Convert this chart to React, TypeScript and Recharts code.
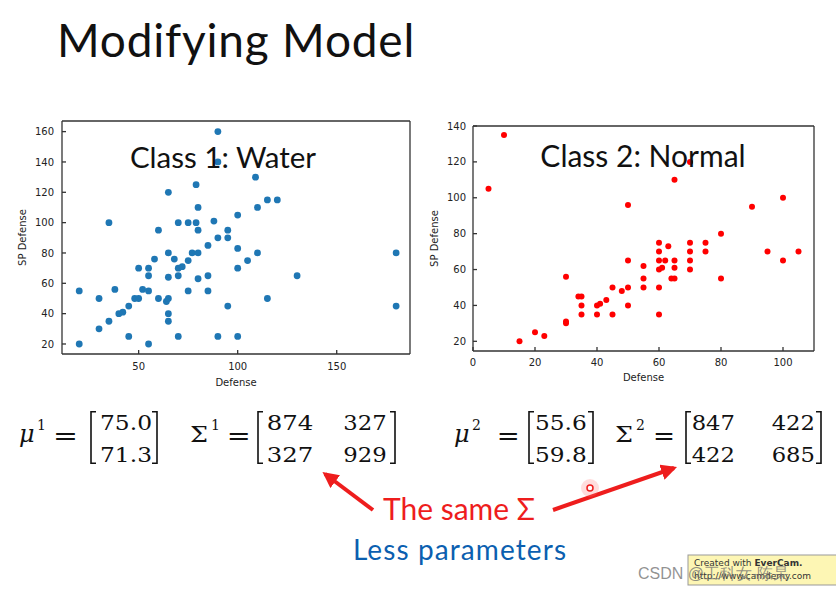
import { ScatterChart, Scatter, XAxis, YAxis } from "recharts";

// Class 1: Water
const waterDefense = [20, 20, 30, 30, 35, 35, 38, 40, 42, 45, 45, 48, 50, 50, 52, 55, 55, 55, 55, 58, 60, 60, 64, 65, 65, 65, 65, 65, 65, 68, 70, 70, 70, 70, 72, 75, 75, 75, 79, 79, 80, 80, 77, 80, 80, 85, 85, 85, 88, 90, 90, 90, 90, 95, 95, 95, 100, 100, 100, 100, 105, 109, 110, 110, 115, 115, 120, 130, 180, 180];
const waterSpDefense = [55, 20, 50, 30, 35, 100, 56, 40, 41, 45, 25, 50, 50, 70, 56, 55, 70, 65, 20, 76, 95, 50, 48, 50, 64, 40, 35, 80, 120, 76, 100, 70, 65, 25, 71, 75, 55, 100, 125, 100, 110, 95, 80, 80, 63, 85, 65, 55, 101, 160, 140, 90, 25, 95, 90, 45, 105, 83, 70, 25, 75, 130, 110, 80, 115, 50, 115, 65, 80, 45];

// Class 2: Normal
const normalDefense = [5, 10, 15, 20, 23, 30, 30, 30, 34, 35, 35, 35, 40, 41, 40, 43, 45, 45, 48, 50, 50, 50, 50, 55, 55, 55, 60, 60, 60, 60, 61, 60, 60, 62, 63, 64, 65, 65, 65, 65, 70, 70, 70, 70, 70, 75, 75, 80, 80, 90, 95, 100, 100, 105];
const normalSpDefense = [105, 135, 20, 25, 23, 56, 31, 30, 45, 45, 40, 35, 40, 41, 35, 43, 50, 35, 48, 96, 65, 50, 40, 62, 55, 50, 75, 70, 65, 60, 61, 50, 35, 65, 73, 55, 110, 65, 61, 55, 120, 75, 70, 65, 60, 75, 70, 80, 55, 95, 70, 100, 65, 70];

const waterXTicks = [50, 100, 150];
const waterYTicks = [20, 40, 60, 80, 100, 120, 140, 160];
const normalXTicks = [0, 20, 40, 60, 80, 100];
const normalYTicks = [20, 40, 60, 80, 100, 120, 140];

const waterData = waterDefense.map((d, i) => ({ x: d, y: waterSpDefense[i] }));
const normalData = normalDefense.map((d, i) => ({ x: d, y: normalSpDefense[i] }));

const FRAME = "#333";
const tickFont = { fontSize: 10, fill: "#222", fontFamily: "DejaVu Sans" };
const labelStyle = { fontSize: 10, fill: "#222", fontFamily: "DejaVu Sans", textAnchor: "middle" as const };

function Dot(color: string, r: number) {
  return (p: any) => <circle cx={p.cx} cy={p.cy} r={r} fill={color} />;
}

const NoDot = () => <g />;

type PlotProps = {
  data: { x: number; y: number }[];
  xDomain: number[];
  yDomain: number[];
  xTicks: number[];
  yTicks: number[];
  color: string;
  r: number;
  width: number;
  height: number;
  top: number;
  yWidth: number;
  xHeight: number;
  xTickMargin: number;
  yTickMargin: number;
  yLabelOffset: number;
  xLabelOffset: number;
};

function Plot(p: PlotProps) {
  return (
    <ScatterChart width={p.width} height={p.height} margin={{ top: p.top - 1, right: 9, left: 0, bottom: 0 }}>
      <XAxis
        type="number"
        dataKey="x"
        domain={p.xDomain}
        allowDataOverflow
        ticks={p.xTicks}
        height={p.xHeight}
        tickSize={-4}
        tickMargin={p.xTickMargin}
        stroke={FRAME}
        strokeWidth={1.3}
        tick={tickFont}
        label={{ value: "Defense", position: "insideBottom", offset: p.xLabelOffset, style: labelStyle }}
      />
      <XAxis
        xAxisId="top"
        orientation="top"
        type="number"
        dataKey="x"
        domain={p.xDomain}
        allowDataOverflow
        ticks={p.xTicks}
        height={1}
        tickSize={-4}
        tick={false}
        stroke={FRAME}
        strokeWidth={1.3}
      />
      <YAxis
        type="number"
        dataKey="y"
        domain={p.yDomain}
        allowDataOverflow
        ticks={p.yTicks}
        width={p.yWidth}
        tickSize={-4}
        tickMargin={p.yTickMargin}
        stroke={FRAME}
        strokeWidth={1.3}
        tick={tickFont}
        label={{ value: "SP Defense", angle: -90, position: "insideLeft", offset: p.yLabelOffset, style: labelStyle }}
      />
      <YAxis
        yAxisId="right"
        orientation="right"
        type="number"
        dataKey="y"
        domain={p.yDomain}
        allowDataOverflow
        ticks={p.yTicks}
        width={1}
        tickSize={-4}
        tick={false}
        stroke={FRAME}
        strokeWidth={1.3}
      />
      <Scatter data={p.data} xAxisId="top" yAxisId="right" isAnimationActive={false} shape={NoDot} />
      <Scatter data={p.data} isAnimationActive={false} shape={Dot(p.color, p.r)} />
    </ScatterChart>
  );
}

const serif = "DejaVu Serif";
const RED = "#ee1d1d";

function Bracket({ x, open }: { x: number; open: boolean }) {
  const t = 411.7;
  const b = 463.3;
  const d = open ? `M ${x + 5} ${t} H ${x} V ${b} H ${x + 5}` : `M ${x - 5} ${t} H ${x} V ${b} H ${x - 5}`;
  return <path d={d} fill="none" stroke="#111" strokeWidth={1.6} />;
}

function Num({ x, y, w, s }: { x: number; y: number; w: number; s: string }) {
  return (
    <text x={x} y={y} fontFamily={serif} fontSize={20} textLength={w} lengthAdjust="spacingAndGlyphs" fill="#111">
      {s}
    </text>
  );
}

function Formulas() {
  const r1 = 430;
  const r2 = 461.7;
  return (
    <g>
      {/* mu 1 */}
      <text x={19} y={442} fontFamily={serif} fontStyle="italic" fontSize={24} fill="#111">μ</text>
      <text x={37} y={430} fontFamily={serif} fontSize={14} fill="#111">1</text>
      <text x={53} y={445} fontFamily={serif} fontSize={26} textLength={25} lengthAdjust="spacingAndGlyphs" fill="#111">=</text>
      <Bracket x={91} open />
      <Num x={100} y={r1} w={52} s="75.0" />
      <Num x={100} y={r2} w={52} s="71.3" />
      <Bracket x={157} open={false} />
      {/* sigma 1 */}
      <text x={190} y={441.7} fontFamily={serif} fontSize={22} textLength={18} lengthAdjust="spacingAndGlyphs" fill="#111">Σ</text>
      <text x={211} y={430} fontFamily={serif} fontSize={14} fill="#111">1</text>
      <text x={226.7} y={445} fontFamily={serif} fontSize={26} textLength={24} lengthAdjust="spacingAndGlyphs" fill="#111">=</text>
      <Bracket x={258} open />
      <Num x={266.7} y={r1} w={46.6} s="874" />
      <Num x={343.3} y={r1} w={43.4} s="327" />
      <Num x={266.7} y={r2} w={46.6} s="327" />
      <Num x={343.3} y={r2} w={43.4} s="929" />
      <Bracket x={395} open={false} />
      {/* mu 2 */}
      <text x={454} y={442} fontFamily={serif} fontStyle="italic" fontSize={24} fill="#111">μ</text>
      <text x={472} y={430} fontFamily={serif} fontSize={14} fill="#111">2</text>
      <text x={496.7} y={445} fontFamily={serif} fontSize={26} textLength={23} lengthAdjust="spacingAndGlyphs" fill="#111">=</text>
      <Bracket x={529} open />
      <Num x={535} y={r1} w={51.7} s="55.6" />
      <Num x={535} y={r2} w={51.7} s="59.8" />
      <Bracket x={593} open={false} />
      {/* sigma 2 */}
      <text x={615} y={441.7} fontFamily={serif} fontSize={22} textLength={18} lengthAdjust="spacingAndGlyphs" fill="#111">Σ</text>
      <text x={636} y={430} fontFamily={serif} fontSize={14} fill="#111">2</text>
      <text x={653} y={445} fontFamily={serif} fontSize={26} textLength={22} lengthAdjust="spacingAndGlyphs" fill="#111">=</text>
      <Bracket x={686} open />
      <Num x={691.7} y={r1} w={43.3} s="847" />
      <Num x={771.7} y={r1} w={43.3} s="422" />
      <Num x={691.7} y={r2} w={43.3} s="422" />
      <Num x={771.7} y={r2} w={43.3} s="685" />
      <Bracket x={821} open={false} />
    </g>
  );
}

function Overlay() {
  return (
    <svg width={836} height={592} style={{ position: "absolute", left: 0, top: 0, pointerEvents: "none" }}>
      <defs>
        <marker id="head" viewBox="0 0 10 10" refX="8" refY="5" markerWidth="4" markerHeight="4" orient="auto">
          <path d="M0,0 L10,5 L0,10 z" fill={RED} />
        </marker>
      </defs>
      <text x={57} y={57} fontFamily="Lato" fontSize={46} letterSpacing={0.8} fill="#111">Modifying Model</text>
      <text x={223} y={168} fontFamily="Lato" fontSize={29.5} textAnchor="middle" fill="#111">Class 1: Water</text>
      <text x={643} y={167} fontFamily="Lato" fontSize={30} textAnchor="middle" fill="#111">Class 2: Normal</text>
      <Formulas />
      <line x1={373} y1={510} x2={325} y2={474} stroke={RED} strokeWidth={4} markerEnd="url(#head)" />
      <line x1={553} y1={510} x2={674} y2={468} stroke={RED} strokeWidth={4} markerEnd="url(#head)" />
      <circle cx={590} cy={488} r={9} fill="rgba(255,120,120,0.25)" />
      <circle cx={590} cy={488} r={3} fill="#fff" stroke={RED} strokeWidth={1.5} />
      <text x={459} y={520} fontFamily="Lato" fontSize={30} textAnchor="middle" fill={RED}>The same Σ</text>
      <text x={460} y={560} fontFamily="Lato" fontSize={28} letterSpacing={1.1} textAnchor="middle" fill="#0b5fb0">Less parameters</text>
      <rect x={688} y={555} width={150} height={30} fill="#fdf6b4" stroke="#999" />
      <text x={694} y={566} fontFamily="DejaVu Sans" fontSize={9} fill="#333">
        Created with <tspan fontWeight="bold">EverCam.</tspan>
      </text>
      <text x={694} y={579} fontFamily="DejaVu Sans" fontSize={9} fill="#333">http://www.camdemy.com</text>
      <text x={638} y={579} fontFamily="Liberation Sans" fontSize={16} fill="rgba(110,110,110,0.75)">CSDN @工科女-陈杲</text>
    </svg>
  );
}

export default function App() {
  return (
    <div style={{ position: "absolute", left: 0, top: 0, width: 836, height: 592, background: "#fff", overflow: "hidden" }}>
      <div style={{ position: "absolute", left: 0, top: 110 }}>
        <Plot
          data={waterData}
          xDomain={[11.3, 187]}
          yDomain={[13.4, 167]}
          xTicks={waterXTicks}
          yTicks={waterYTicks}
          color="#1f77b4"
          r={3.4}
          width={420}
          height={280}
          top={11}
          yWidth={62}
          xHeight={36}
          xTickMargin={13}
          yTickMargin={12}
          yLabelOffset={22}
          xLabelOffset={4}
        />
      </div>
      <div style={{ position: "absolute", left: 420, top: 110 }}>
        <Plot
          data={normalData}
          xDomain={[0, 110]}
          yDomain={[14.6, 140]}
          xTicks={normalXTicks}
          yTicks={normalYTicks}
          color="#ff0000"
          r={3}
          width={404}
          height={276}
          top={16}
          yWidth={53}
          xHeight={35}
          xTickMargin={11.6}
          yTickMargin={11}
          yLabelOffset={14}
          xLabelOffset={5}
        />
      </div>
      <Overlay />
    </div>
  );
}
